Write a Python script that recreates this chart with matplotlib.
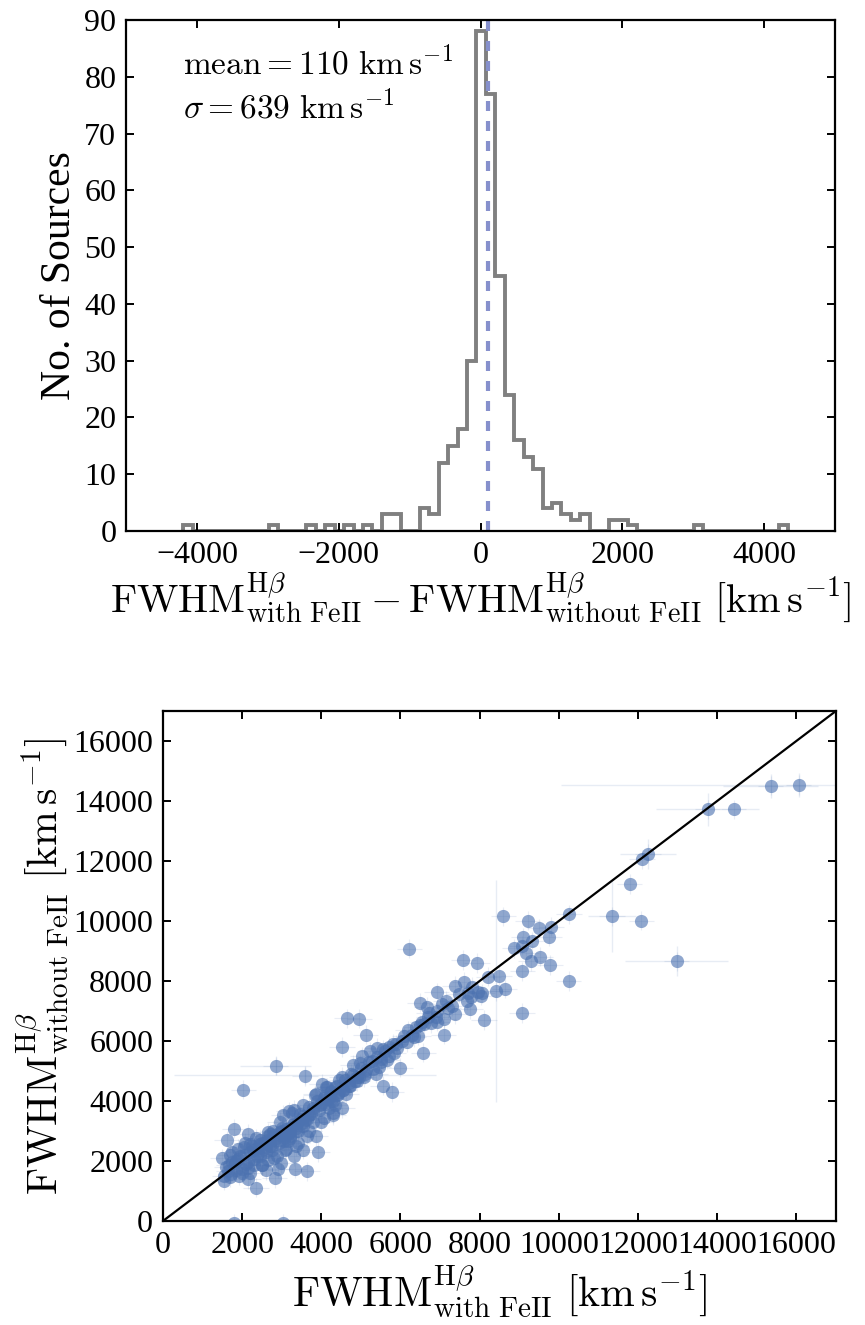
"""FWHM(Hbeta) with / without FeII: difference histogram and one-to-one comparison."""

import matplotlib
matplotlib.use("Agg")
import matplotlib.pyplot as plt
import numpy as np

# histogram of FWHM_with - FWHM_without (km/s), 64 equal bins
BIN_LO, BIN_HI = -4190, 4340
COUNTS = [1, 0, 0, 0, 0, 0, 0, 0, 0, 1,
          0, 0, 0, 1, 0, 1, 0, 1, 0, 1,
          0, 3, 3, 0, 0, 4, 3, 12, 15, 18,
          30, 88, 77, 45, 24, 16, 13, 11, 4, 5,
          3, 2, 3, 0, 0, 2, 2, 1, 0, 0,
          0, 0, 0, 0, 1, 0, 0, 0, 0, 0,
          0, 0, 0, 1]
MEAN_DIFF = 110
SIGMA_DIFF = 639

# scatter: FWHM with FeII (x) vs without FeII (y), km/s
FWHM_WITH = [15350, 16060, 13760, 14420, 12100, 12250, 11790, 11340, 12080, 12980,
             10260, 10250, 8600, 9210, 9510, 9810, 9760, 9100, 9320, 8880,
             9070, 9180, 9290, 9530, 9780, 9080, 7590, 7930, 6220, 8220,
             8500, 8630, 8410, 8070, 7970, 7790, 7680, 7370, 7610, 6910,
             7200, 7760, 8110, 9070, 6490, 6660, 7040, 7370, 7090, 6550,
             6770, 6930, 7090, 6580, 6180, 6330, 6440, 6050, 5890, 5720,
             5560, 5400, 5230, 5040, 5120, 4650, 4960, 4520, 6000, 5560,
             5780, 4790, 4980, 5290, 5450, 5370, 5070, 4740, 4520, 4720,
             4350, 4240, 4020, 3860, 4080, 4300, 4520, 4190, 3970, 3800,
             3590, 2850, 2030, 3180, 3310, 3040, 3860, 3910, 3640, 3330,
             3530, 3200, 3420, 2790, 2540, 2650, 2820, 2350, 1800, 1610,
             2080, 1500, 1540, 1720, 1830, 2000, 2160, 2270, 2380, 2490,
             2650, 2870, 2980, 3090, 2930, 3150, 2710, 2160, 1910, 1670,
             2600, 2900, 3310, 3370, 3640, 3530, 3260, 3800, 3700, 4080,
             4300, 4410, 4130, 4630, 4850, 5120, 5670, 5830, 6160, 6490,
             6710, 6930, 7150, 7480, 7810, 8030, 1800, 3020,
             1600, 1750, 1900, 2050, 2200, 2350, 2500, 2650, 2800, 2950,
             3100, 3250, 3400, 3550, 1700, 1950, 2250, 2450, 2700, 3000,
             3300, 3450, 3700, 3900, 4100, 4250, 4400, 4600, 4800, 5000,
             5200, 5400, 5600, 5800, 6100, 6400, 6700, 2100, 2400, 2550,
             2850, 3150, 3350, 3500, 3750, 4000, 4150, 4450, 4700, 4900,
             1650, 1850, 2300, 2750, 3050, 2200, 2600, 3200, 3600, 4350,
             5500, 5900, 6300, 6600, 6900, 7300, 7700, 4200, 4550, 4950,
             1550, 1700, 1850, 2000, 2150, 2300, 2450, 2600, 2750, 2900,
             3050, 3200, 3350, 3500, 3650, 3800, 3950, 4100, 4250, 4400,
             4550, 4700, 4900, 5100, 5300, 5500, 5700, 1750, 2050, 2350,
             2650, 2950, 3250, 3550, 3850, 4150, 4450, 2200, 2500, 2800,
             3100, 3400, 3700, 4000, 4300, 1900, 2150, 2450, 2700, 3000]
FWHM_WITHOUT = [14510, 14530, 13720, 13720, 12060, 12240, 11230, 10150, 10010, 8660,
                10220, 8000, 10160, 10010, 9760, 9810, 9470, 9460, 9320, 9090,
                9180, 8920, 8660, 8810, 8530, 8320, 8700, 8600, 9070, 8140,
                8180, 7740, 7650, 7590, 7620, 7470, 7340, 7840, 7970, 7620,
                7100, 7050, 6700, 6930, 7280, 7140, 7220, 6900, 6210, 6640,
                6590, 6640, 6740, 5610, 6360, 6120, 6180, 6010, 5890, 5800,
                5720, 5780, 5660, 5490, 6210, 6760, 6740, 5800, 5110, 4510,
                4300, 5200, 5260, 5320, 5140, 4910, 4800, 4910, 4800, 4510,
                4450, 4340, 4570, 4220, 4110, 3990, 3760, 3760, 3880, 3650,
                4820, 5170, 4380, 3650, 3700, 3530, 2820, 2300, 1660, 1740,
                2380, 2840, 3010, 3010, 2610, 2840, 1430, 1110, 3070, 2690,
                2610, 2090, 1340, 1570, 1920, 1740, 1970, 2380, 2150, 1860,
                2030, 2150, 1920, 2380, 2610, 2670, 2490, 1400, 1510, 1860,
                1690, 1740, 2150, 2490, 2840, 3180, 3130, 3300, 3530, 3420,
                3530, 4220, 4450, 4220, 4680, 5030, 5380, 5610, 5950, 6530,
                6930, 6990, 7340, 7570, 7800, 7510, -80, -80,
                1800, 1950, 2050, 2200, 2300, 2400, 2600, 2700, 2850, 2950,
                3050, 3200, 3300, 3500, 2200, 2150, 2500, 2700, 2900, 3100,
                3250, 3550, 3800, 4000, 4150, 4300, 4500, 4700, 4850, 5100,
                5300, 5450, 5650, 5900, 6150, 6450, 6800, 1900, 2250, 2400,
                2750, 2900, 3100, 3400, 3550, 3900, 4050, 4300, 4600, 4800,
                1650, 2000, 1850, 2500, 2650, 2550, 2300, 2750, 3350, 3850,
                5400, 5750, 6200, 6550, 6800, 7150, 7600, 4100, 4350, 4800,
                1500, 1450, 1700, 1600, 1750, 2050, 2150, 2450, 2350, 2700,
                2800, 2950, 3000, 3250, 3400, 3750, 3700, 3900, 4000, 4200,
                4350, 4500, 4650, 4900, 5050, 5300, 5500, 2300, 2450, 2750,
                2950, 3300, 3600, 3850, 4200, 4450, 4700, 1600, 1850, 2100,
                2400, 2600, 3000, 3300, 3600, 2400, 2900, 2550, 2650, 3000]
FWHM_ERR = 320

# a few sources with conspicuously large uncertainties
BIG_X = [16060, 15350, 13760, 12980, 11340, 8410, 3590, 12250, 2850]
BIG_Y = [14530, 14510, 13720, 8660, 10150, 7650, 4870, 12240, 5170]
BIG_XERR = [6000, 1200, 1300, 1300, 600, 350, 3300, 700, 900]
BIG_YERR = [400, 400, 550, 500, 1200, 3700, 300, 500, 300]

BLUE = "#4C72B0"

plt.rcParams["font.family"] = ["Liberation Serif", "DejaVu Serif"]
plt.rcParams["mathtext.fontset"] = "cm"
plt.rcParams["xtick.direction"] = "in"
plt.rcParams["ytick.direction"] = "in"
plt.rcParams["xtick.top"] = True
plt.rcParams["ytick.right"] = True
plt.rcParams["xtick.major.size"] = 6
plt.rcParams["ytick.major.size"] = 6
plt.rcParams["xtick.major.width"] = 1.4
plt.rcParams["ytick.major.width"] = 1.4
plt.rcParams["xtick.major.pad"] = 7
plt.rcParams["ytick.major.pad"] = 7
plt.rcParams["axes.linewidth"] = 1.6
plt.rcParams["xtick.labelsize"] = 23
plt.rcParams["ytick.labelsize"] = 23

fig = plt.figure(figsize=(8.65, 13.25), dpi=100)
ax1 = fig.add_axes([0.1457, 0.5992, 0.8197, 0.3857])
ax2 = fig.add_axes([0.1884, 0.0785, 0.7780, 0.3849])

edges = np.linspace(BIN_LO, BIN_HI, len(COUNTS) + 1)
ax1.stairs(COUNTS, edges, color="#808080", linewidth=2.8)
ax1.axvline(MEAN_DIFF, color="#8690cc", linewidth=3, linestyle=(0, (2.4, 2.4)))
ax1.set_xlim(-5000, 5000)
ax1.set_ylim(0, 90)
ax1.set_xticks([-4000, -2000, 0, 2000, 4000])
ax1.set_yticks(range(0, 91, 10))
ax1.set_ylabel("No. of Sources", fontsize=30, labelpad=4)
ax1.set_xlabel(r"$\mathrm{FWHM}^{\mathrm{H}\beta}_{\mathrm{with\ FeII}}-\mathrm{FWHM}^{\mathrm{H}\beta}_{\mathrm{without\ FeII}}\ [\mathrm{km\,s^{-1}}]$",
               fontsize=29, labelpad=0)
ax1.text(0.08, 0.915, r"$\mathrm{mean}=%d\ \mathrm{km\,s^{-1}}$" % MEAN_DIFF, transform=ax1.transAxes, fontsize=24, va="center")
ax1.text(0.08, 0.83, r"$\sigma=%d\ \mathrm{km\,s^{-1}}$" % SIGMA_DIFF, transform=ax1.transAxes, fontsize=24, va="center")

ax2.errorbar(BIG_X, BIG_Y, xerr=BIG_XERR, yerr=BIG_YERR, fmt="none", ecolor=BLUE, alpha=0.13, elinewidth=1)
ax2.errorbar(FWHM_WITH, FWHM_WITHOUT, xerr=FWHM_ERR, yerr=FWHM_ERR, fmt="none", ecolor=BLUE, alpha=0.12, elinewidth=0.8)
ax2.plot(FWHM_WITH, FWHM_WITHOUT, "o", color=BLUE, markersize=9.5, markeredgewidth=0, alpha=0.62)
ax2.plot([0, 17000], [0, 17000], color="black", linewidth=1.6)
ax2.set_xlim(0, 17000)
ax2.set_ylim(0, 17000)
ax2.set_xticks(range(0, 16001, 2000))
ax2.set_yticks(range(0, 16001, 2000))
ax2.set_xlabel(r"$\mathrm{FWHM}^{\mathrm{H}\beta}_{\mathrm{with\ FeII}}\ [\mathrm{km\,s^{-1}}]$", fontsize=30, labelpad=2)
ax2.set_ylabel(r"$\mathrm{FWHM}^{\mathrm{H}\beta}_{\mathrm{without\ FeII}}\ [\mathrm{km\,s^{-1}}]$", fontsize=30, labelpad=2)

fig.savefig("out.png", dpi=100)
plt.close(fig)
